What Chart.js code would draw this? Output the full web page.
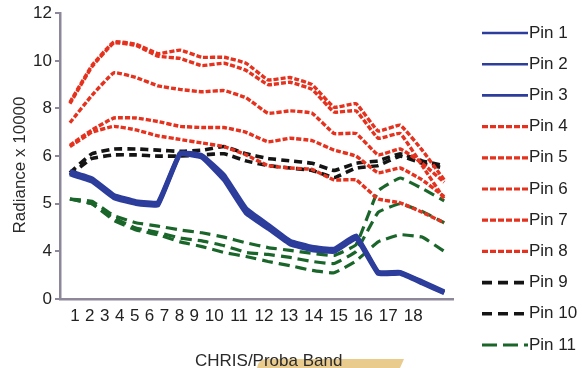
<!DOCTYPE html>
<html>
<head>
<meta charset="utf-8">
<script src="https://cdn.jsdelivr.net/npm/chart.js@4/dist/chart.umd.min.js"></script>
<style>
html,body{margin:0;padding:0;background:#ffffff;}
canvas{display:block;}
</style>
</head>
<body>
<canvas id="c" width="582" height="368"></canvas>
<script>
// ---------- data ----------
const bands = [1,2,3,4,5,6,7,8,9,10,11,12,13,14,15,16,17,18];
const xTickLabels = ['1','2','3','4','5','6','7','8','9','10','11','12','13','14','15','16','17','18'];
const yTickValues = [0,4,5,6,8,10,12];
const pinNames = ['Pin 1','Pin 2','Pin 3','Pin 4','Pin 5','Pin 6','Pin 7','Pin 8','Pin 9','Pin 10','Pin 11','Pin 12','Pin 13'];
const pinGroups = ['blue','blue','blue','red','red','red','red','red','black','black','green','green','green'];

const pin1  = [5.65,5.50,5.15,5.02,5.00,6.10,6.00,5.55,4.85,4.52,4.18,4.06,4.02,4.30,2.20,2.20,1.40,0.55];
const pin2  = [5.62,5.47,5.12,5.00,4.97,6.07,5.97,5.50,4.80,4.48,4.15,4.03,3.98,4.27,2.12,2.14,1.33,0.50];
const pin3  = [5.68,5.53,5.18,5.05,5.03,6.13,6.03,5.60,4.90,4.56,4.22,4.09,4.05,4.33,2.28,2.26,1.47,0.62];
const pin4  = [8.26,9.80,10.80,10.70,10.30,10.45,10.15,10.15,9.90,9.20,9.30,9.00,8.05,8.20,7.05,7.30,6.25,5.50];
const pin5  = [8.20,9.75,10.75,10.65,10.20,10.10,9.80,9.90,9.60,9.00,9.10,8.80,7.85,7.90,6.75,6.95,5.80,5.10];
const pin6  = [7.40,8.55,9.50,9.30,8.95,8.80,8.70,8.75,8.45,7.80,7.90,7.80,6.95,6.95,6.05,6.30,5.85,5.45];
const pin7  = [6.45,7.10,7.60,7.60,7.45,7.25,7.20,7.20,7.00,6.60,6.75,6.65,6.25,6.00,5.65,5.75,5.50,5.15];
const pin8  = [6.40,7.00,7.25,7.10,6.85,6.70,6.55,6.40,6.05,5.80,5.75,5.72,5.50,5.50,5.10,5.02,4.82,4.60];
const pin9  = [5.65,6.10,6.30,6.30,6.25,6.20,6.25,6.40,6.10,5.95,5.90,5.85,5.70,5.85,5.90,6.10,5.90,5.80];
const pin10 = [5.60,5.95,6.05,6.05,6.00,6.00,6.05,6.10,5.90,5.80,5.75,5.70,5.55,5.75,5.80,6.00,5.85,5.75];
const pin11 = [5.10,5.05,4.75,4.60,4.53,4.45,4.39,4.30,4.18,4.08,4.02,3.83,3.66,4.14,5.27,5.54,5.32,5.06];
const pin12 = [5.10,5.00,4.70,4.49,4.40,4.28,4.22,4.12,3.91,3.74,3.49,3.15,2.98,4.00,4.82,5.00,4.84,4.60];
const pin13 = [5.10,5.00,4.65,4.45,4.35,4.20,4.10,3.91,3.57,3.15,2.80,2.40,2.20,3.20,4.20,4.35,4.30,4.00];
const pinValues = [pin1,pin2,pin3,pin4,pin5,pin6,pin7,pin8,pin9,pin10,pin11,pin12,pin13];

// ---------- styles ----------
const groupStyle = {
  blue:  {color:'#2c3d9c', dash:[],     width:4.5, legendWidth:2.6, legendDash:[]},
  red:   {color:'#e4321e', dash:[5,2],  width:3.4, legendWidth:3.2, legendDash:[6,2]},
  black: {color:'#141414', dash:[8,5],  width:3.6, legendWidth:3.6, legendDash:[10,6]},
  green: {color:'#1a662a', dash:[11,6], width:3.2, legendWidth:3.2, legendDash:[15,6]}
};
const FONT = '"Liberation Sans", Arial, sans-serif';
const TEXT = '#222222';
const AXIS = '#8e8799';

// broken (non-linear) value axis: tick labels equally spaced
function toPos(v){
  for (let i = 1; i < yTickValues.length; i++){
    if (v <= yTickValues[i]) return (i-1) + (v - yTickValues[i-1])/(yTickValues[i]-yTickValues[i-1]);
  }
  return yTickValues.length - 1;
}

// x tick labels laid out like a typed text row "1 2 3 ... 18"
const labelCenters = [];
(function(){ let cur = 0; xTickLabels.forEach(t => { labelCenters.push(cur + t.length/2); cur += t.length + 0.5; }); })();

const datasets = pinNames.map((name, i) => {
  const st = groupStyle[pinGroups[i]];
  return {
    label: name,
    data: pinValues[i].map((v, k) => ({x: bands[k], y: toPos(v)})),
    borderColor: st.color,
    backgroundColor: st.color,
    borderDash: st.dash,
    borderWidth: st.width,
    pointRadius: 0,
    tension: 0.1,
    fill: false,
    xAxisID: 'x',
    yAxisID: 'y'
  };
});

const decor = {
  id: 'decor',
  afterDraw(chart){
    const ctx = chart.ctx;
    const ca = chart.chartArea;
    ctx.save();
    // tan strip behind the axis title
    ctx.fillStyle = '#eacb8e';
    ctx.beginPath();
    ctx.moveTo(ca.left + 197, 368);
    ctx.quadraticCurveTo(ca.left + 198, 359, ca.left + 208, 359);
    ctx.lineTo(ca.left + 344, 359);
    ctx.lineTo(ca.left + 340, 368);
    ctx.closePath();
    ctx.fill();
    // x title
    ctx.font = '17px ' + FONT;
    ctx.fillStyle = '#2a2a2a';
    ctx.textAlign = 'left';
    ctx.textBaseline = 'alphabetic';
    ctx.fillText('CHRIS/Proba Band', ca.left + 135, 366);
    // y title
    ctx.translate(20, 165);
    ctx.rotate(-Math.PI/2);
    ctx.textAlign = 'center';
    ctx.textBaseline = 'middle';
    ctx.fillText('Radiance x 10000', 0, 0);
    ctx.restore();
    // legend
    chart.data.datasets.forEach((ds, i) => {
      const st = groupStyle[pinGroups[i]];
      const y = 33 + i * 31.2;
      const x0 = ca.right + 29;
      ctx.save();
      ctx.strokeStyle = st.color;
      ctx.lineWidth = st.legendWidth;
      ctx.setLineDash(st.legendDash);
      ctx.beginPath();
      ctx.moveTo(x0, y);
      ctx.lineTo(x0 + 46, y);
      ctx.stroke();
      ctx.fillStyle = TEXT;
      ctx.font = '17px ' + FONT;
      ctx.textAlign = 'left';
      ctx.textBaseline = 'middle';
      ctx.fillText(ds.label, x0 + 47, y);
      ctx.restore();
    });
  }
};

new Chart(document.getElementById('c'), {
  type: 'line',
  data: {datasets},
  options: {
    responsive: false,
    devicePixelRatio: 1,
    animation: false,
    layout: {padding: {top: 13, right: 129, bottom: 0, left: 0}},
    plugins: {legend: {display: false}, tooltip: {enabled: false}},
    scales: {
      x: {type: 'linear', display: false, min: 0.55, max: 18.4},
      xt: {
        type: 'linear', position: 'bottom', min: -1, max: 38.5,
        afterBuildTicks: s => { s.ticks = labelCenters.map(v => ({value: v})); },
        afterFit: s => { s.height = 69; },
        ticks: {autoSkip: false, maxRotation: 0, padding: 7, color: TEXT, font: {size: 17, family: FONT},
                callback: (v, i) => xTickLabels[i]},
        grid: {display: false, drawTicks: false},
        border: {display: true, color: AXIS, width: 2.5}
      },
      y: {
        type: 'linear', min: 0, max: yTickValues.length - 1,
        afterFit: s => { s.width = 60; },
        ticks: {stepSize: 1, padding: 3, color: TEXT, font: {size: 17, family: FONT},
                callback: v => String(yTickValues[v])},
        grid: {display: true, drawOnChartArea: false, drawTicks: true, tickLength: 5, color: AXIS, lineWidth: 2},
        border: {display: true, color: AXIS, width: 2.5}
      }
    }
  },
  plugins: [decor]
});
</script>
</body>
</html>
